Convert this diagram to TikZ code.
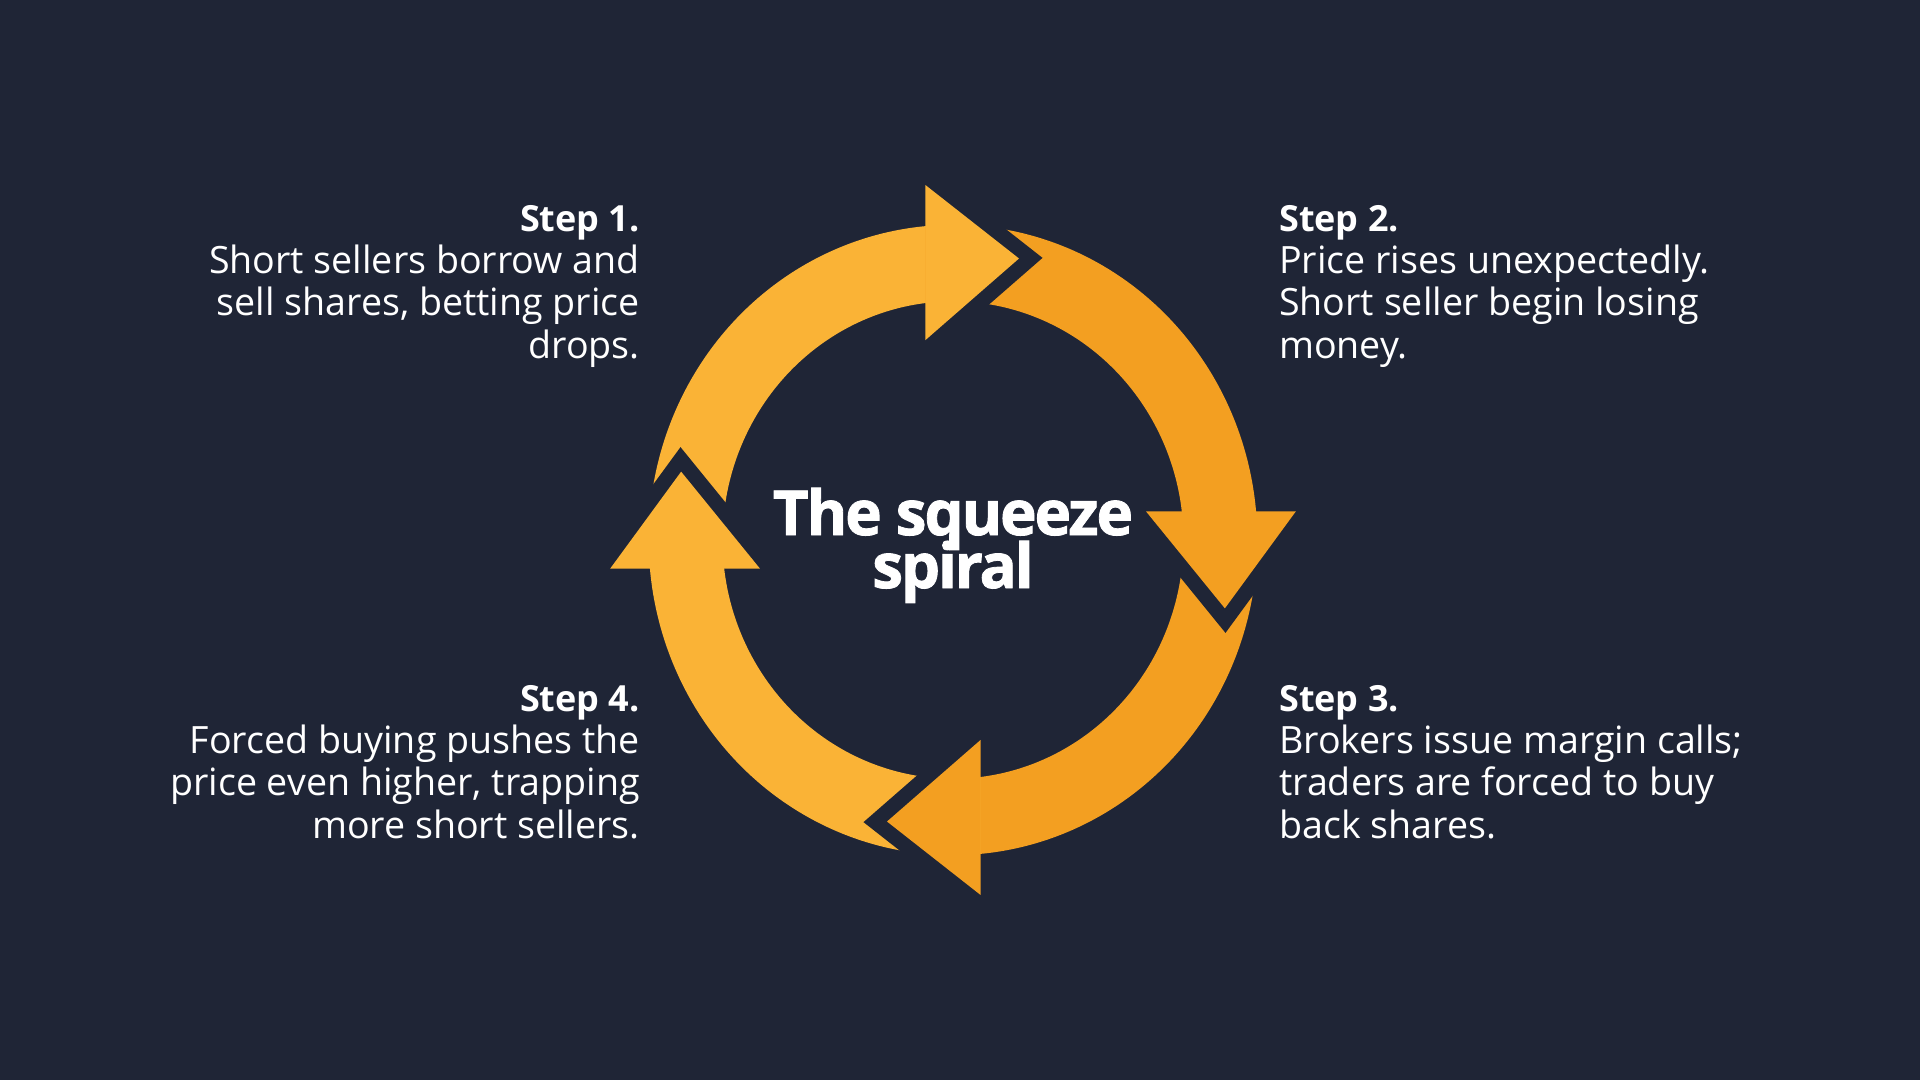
\documentclass[tikz,border=0pt]{standalone}
\usepackage{fontspec}
\setmainfont{Open Sans}
\newfontfamily\titlefont[FakeBold=1.3, LetterSpace=-3.5]{Open Sans Bold}
\definecolor{bg}{RGB}{31,37,54}
\definecolor{arrA}{RGB}{250,179,54}
\definecolor{arrB}{RGB}{243,159,33}
\newcommand{\stephead}[1]{{\fontsize{36}{42.3}\selectfont\bfseries #1}}
\tikzset{
  body/.style={font=\fontsize{37.6}{42.3}\selectfont, text=white, inner sep=0pt},
  leftblock/.style={body, align=right, anchor=base east},
  rightblock/.style={body, align=left, anchor=base west},
  halo/.style={draw=bg, line width=30pt, line join=miter, line cap=butt},
}
\begin{document}
\begin{tikzpicture}[x=1pt,y=1pt]
\fill[bg] (0,0) rectangle (1920,-1080);
\useasboundingbox (0,0) rectangle (1920,-1080);
\coordinate (C) at (953,-540);
\begin{scope}[shift={(C)}, xscale=0.985, yscale=1.02]
% bodies (each runs a little way under its own head to avoid seams)
\foreach \k/\col in {0/arrA,1/arrB,2/arrB,3/arrA}{
  \begin{scope}[rotate=-90*\k]
    \fill[\col] (185.2:309) arc[start angle=185.2, end angle=92.7, radius=309]
      -- (94.4:234) arc[start angle=94.4, end angle=186.9, radius=234] -- cycle;
  \end{scope}
}
% halos
\foreach \k in {0,1,2,3}{
  \begin{scope}[rotate=-90*\k]
    \draw[halo] (-28,348) -- (67,276) -- (-28,196);
  \end{scope}
}
% heads
\foreach \k/\col in {0/arrA,1/arrB,2/arrB,3/arrA}{
  \begin{scope}[rotate=-90*\k]
    \fill[\col] (-28,196) -- (67,276) -- (-28,348) -- cycle;
  \end{scope}
}
\end{scope}
\node[font={\titlefont\fontsize{62}{53}\selectfont\lineskiplimit=-100pt}, text=white, align=center, anchor=base, inner sep=0pt] (title) at (953,-588) {The squeeze\\spiral};
\node[leftblock] (s1) at (640,-358) {\stephead{Step 1.}\\Short sellers borrow and\\sell shares, betting price\\drops.};
\node[rightblock] (s2) at (1279,-358) {\stephead{Step 2.}\\Price rises unexpectedly.\\Short seller begin losing\\money.};
\node[rightblock] (s3) at (1279,-838) {\stephead{Step 3.}\\Brokers issue margin calls;\\traders are forced to buy\\back shares.};
\node[leftblock] (s4) at (640,-838) {\stephead{Step 4.}\\Forced buying pushes the\\price even higher, trapping\\more short sellers.};
\end{tikzpicture}
\end{document}
